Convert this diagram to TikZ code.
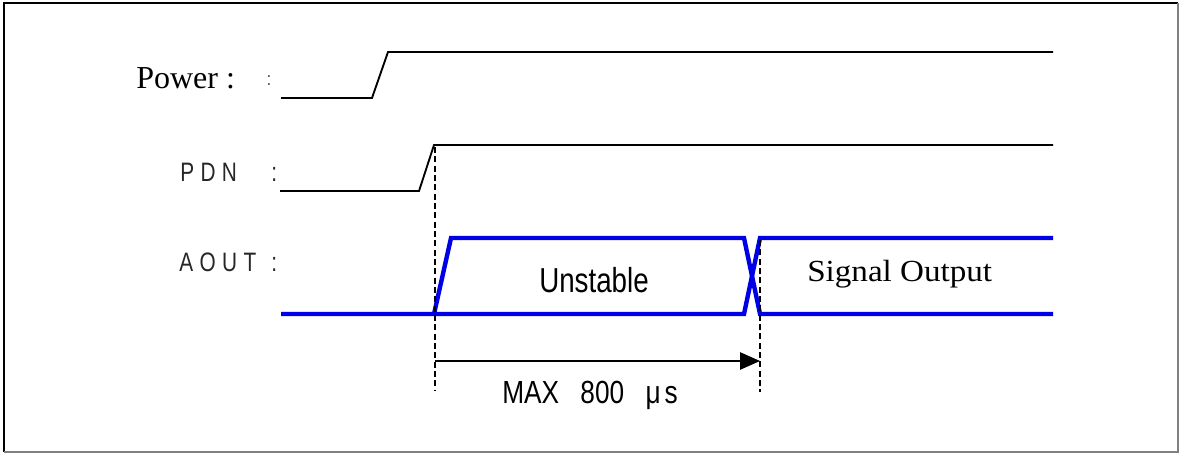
\documentclass[tikz,border=0pt]{standalone}
\usepackage{fontspec}
\setmainfont{Liberation Serif}
\newfontfamily\arialfont{Liberation Sans}
\newfontfamily\narrowsans[FakeStretch=0.8]{Liberation Sans}
\newfontfamily\maxfont[FakeStretch=0.82]{Liberation Sans}
\newfontfamily\wideserif[FakeStretch=1.08]{Liberation Serif}
\newfontfamily\sigfont[FakeStretch=0.78,LetterSpace=24]{Liberation Sans}
\usetikzlibrary{arrows.meta}
\begin{document}
\begin{tikzpicture}[x=0.75pt,y=-0.75pt,
  sig/.style={line width=1.4pt,black,line join=miter},
  blu/.style={line width=3.3pt,line join=miter,color={rgb,255:red,0;green,0;blue,230}},
  guide/.style={line width=0.9pt,dash pattern=on 4.5pt off 2.5pt},
  lbl/.style={anchor=base west,inner sep=0pt},
]
\useasboundingbox (0,0) rectangle (1180,453);
% frame
\draw[line width=2pt,black] (4,452) -- (4,3) -- (1178,3);
\draw[line width=1.4pt,gray] (4,452) -- (1178,452) -- (1178,3);

% labels
\node[lbl,font=\fontsize{24pt}{25pt}\selectfont] (lpow) at (136,89) {Power :};
\node[lbl,font=\arialfont\fontsize{14pt}{15pt}\selectfont,gray!70!black] (lpowc) at (266,85) {:};
\node[lbl,font=\sigfont\fontsize{20pt}{21pt}\selectfont,black!85] (lpdn) at (180,181) {PDN};
\node[lbl,font=\sigfont\fontsize{20pt}{21pt}\selectfont,black!85] (lpdnc) at (271,181) {:};
\node[lbl,font=\sigfont\fontsize{20pt}{21pt}\selectfont,black!85] (laout) at (179,271) {AOUT};
\node[lbl,font=\sigfont\fontsize{20pt}{21pt}\selectfont,black!85] (laoutc) at (271,271) {:};

% Power waveform
\coordinate (p0) at (281,98);
\coordinate (p1) at (372,98);
\coordinate (p2) at (388,52);
\coordinate (p3) at (1053,52);
\draw[sig] (p0) -- (p1) -- (p2) -- (p3);

% PDN waveform
\coordinate (d0) at (280,191);
\coordinate (d1) at (419,191);
\coordinate (d2) at (434,145);
\coordinate (d3) at (1053,145);
\draw[sig] (d0) -- (d1) -- (d2) -- (d3);

% AOUT waveform
\coordinate (a0) at (281,314);
\coordinate (a1) at (434,314);
\coordinate (a2) at (451,238);
\coordinate (a3) at (744,238);
\coordinate (a4) at (744,314);
\coordinate (a5) at (760,238);
\coordinate (a6) at (760,314);
\coordinate (a7) at (1053,238);
\coordinate (a8) at (1053,314);
\draw[blu] (a0) -- (a4) -- (a5) -- (a7);
\draw[blu] (a1) -- (a2) -- (a3) -- (a6) -- (a8);

% guides
\coordinate (g1t) at (435,147);
\coordinate (g1b) at (435,390);
\coordinate (g2t) at (760,240);
\coordinate (g2b) at (760,392);
\draw[guide] (g1t) -- (g1b);
\draw[guide] (g2t) -- (g2b);

% timing arrow
\coordinate (ar0) at (435,361);
\coordinate (ar1) at (760,361);
\draw[line width=1.1pt,-{Triangle[length=15pt,width=13pt]}] (ar0) -- (ar1);

% texts
\node[lbl,font=\narrowsans\fontsize{26pt}{28pt}\selectfont] (tun) at (539,292) {Unstable};
\node[lbl,font=\wideserif\fontsize{23pt}{24pt}\selectfont] (tsig) at (807,281) {Signal Output};
\node[lbl,font=\maxfont\fontsize{24pt}{26pt}\selectfont] (tmax) at (502,403) {MAX\hspace{16pt}800\hspace{16pt}μ\hspace{3pt}s};
\end{tikzpicture}
\end{document}
